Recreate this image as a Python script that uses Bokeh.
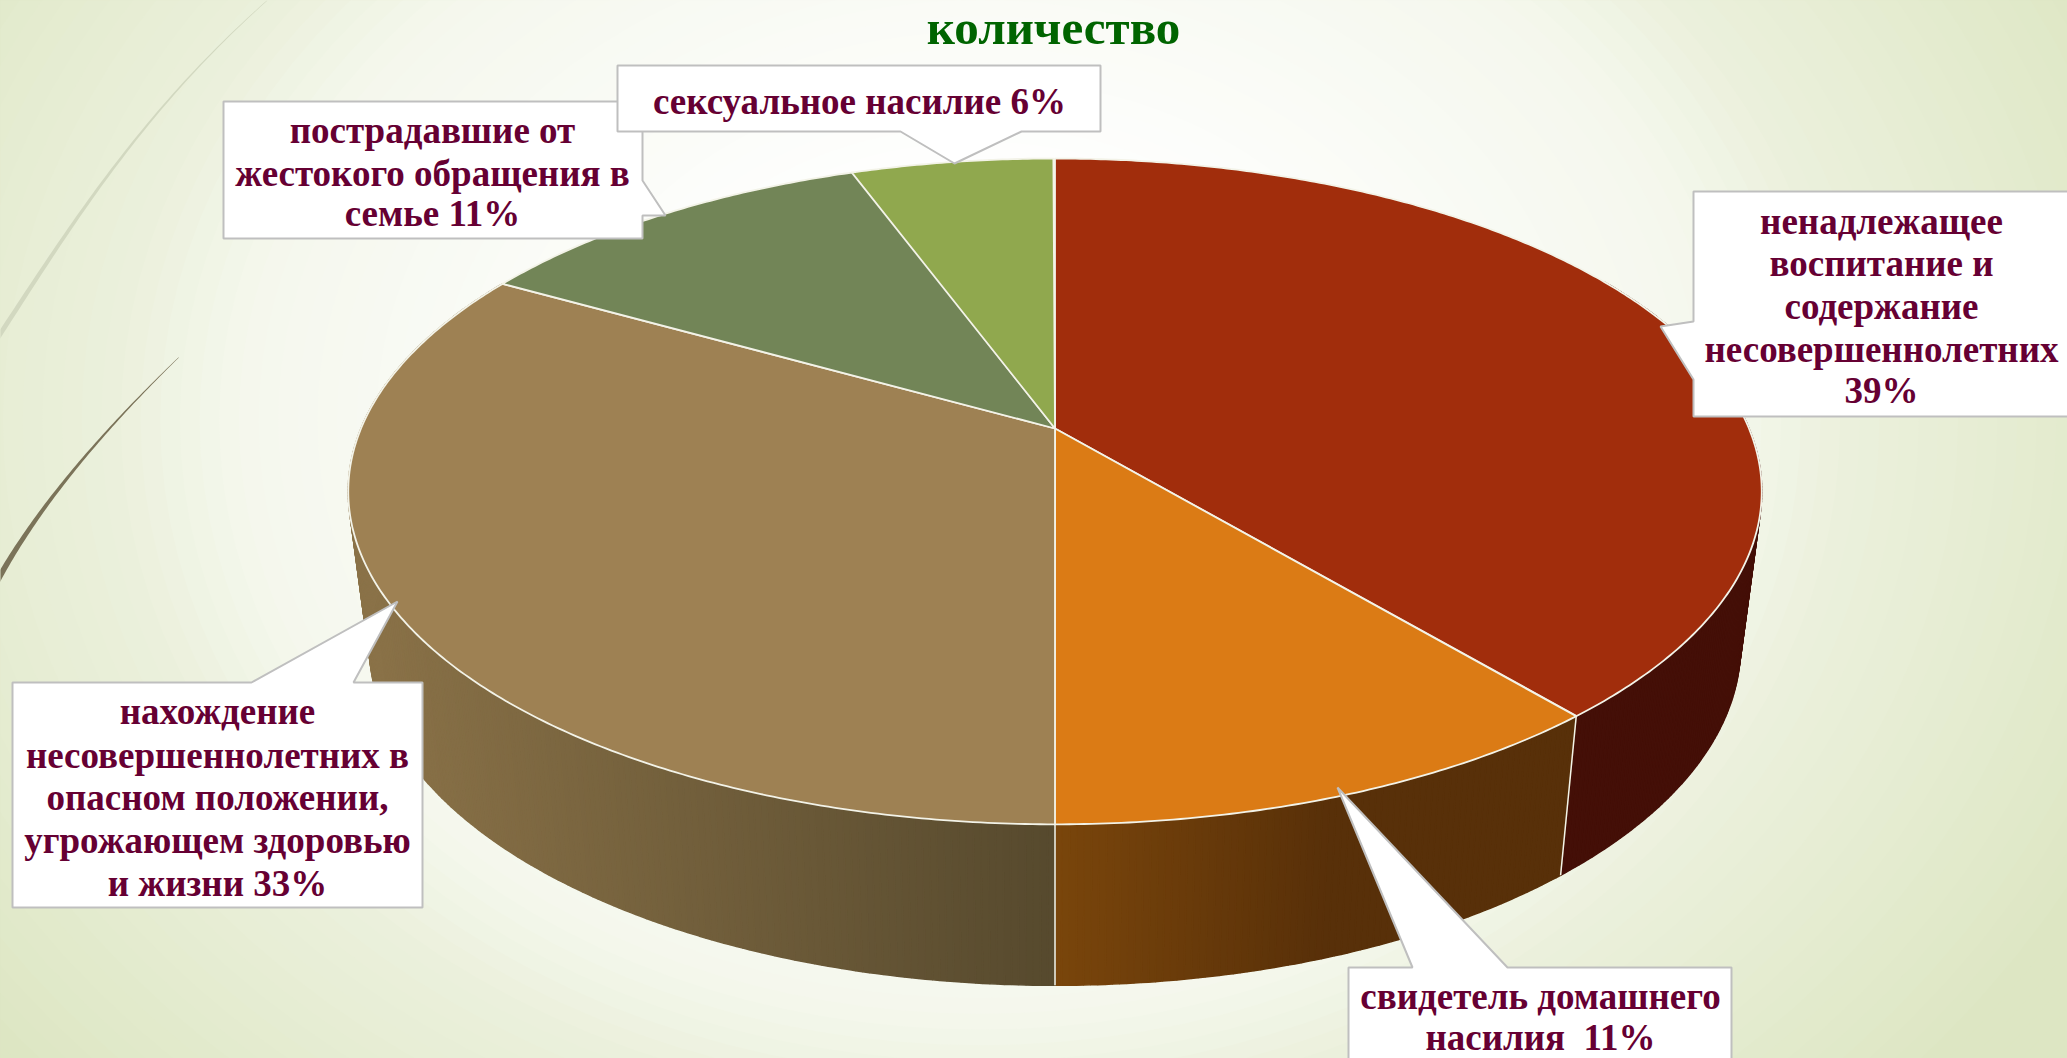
import numpy as np
from bokeh.plotting import figure
from bokeh.models import Range1d
from bokeh.embed import file_html
from bokeh.resources import INLINE
from bokeh.core.properties import value

# --- data (shares in %; labels as printed)
categories = ["ненадлежащее воспитание и содержание несовершеннолетних",
              "свидетель домашнего насилия",
              "нахождение несовершеннолетних в опасном положении, угрожающем здоровью и жизни",
              "пострадавшие от жестокого обращения в семье",
              "сексуальное насилие"]
shares = [38.9, 11.1, 33.2, 11.2, 5.6]
top_colors = ["#a12d0c", "#db7b15", "#9e8153", "#728557", "#90a84e"]
title_text = "количество"
label_lines = [
    ["ненадлежащее", "воспитание и", "содержание", "несовершеннолетних", "39%"],
    ["свидетель домашнего", "насилия\u00a0\u00a011%"],
    ["нахождение", "несовершеннолетних в", "опасном положении,", "угрожающем здоровью", "и жизни 33%"],
    ["пострадавшие от", "жестокого обращения в", "семье 11%"],
    ["сексуальное насилие 6%"],
]

W, H = 2067, 1058
p = figure(width=W, height=H, output_backend="svg", toolbar_location=None,
           x_range=Range1d(0, W), y_range=Range1d(H, 0),
           min_border=0, outline_line_color=None, background_fill_color="#dfe7c6")
p.axis.visible = False
p.grid.visible = False

# --- slide background: radial gradient built from concentric ellipses
white, green = np.array([255, 255, 255.]), np.array([222, 231, 196.])
phi = np.linspace(0, 2 * np.pi, 121)
rs = np.linspace(1.6, 0.2, 90)
xs, ys, cs = [], [], []
for r in rs:
    t = np.interp(r, [0.25, 0.6, 0.7, 1.0, 1.6], [0, 0.3, 0.58, 1, 1.1])
    c = np.clip(white + (green - white) * t, 0, 255).astype(int)
    xs.append(list(980 + 1250 * r * np.cos(phi)))
    ys.append(list(420 + 1000 * r * np.sin(phi)))
    cs.append("#%02x%02x%02x" % tuple(c))
p.patches(xs, ys, fill_color=cs, line_color=None)


# --- wisps on the left: tapered curves
def wisp(px, py, w0, w1, color):
    c = np.polyfit(py, px, 3)
    yy = np.linspace(min(py), max(py), 60)
    xx = np.polyval(c, yy)
    ww = np.linspace(w0, w1, 60) / 2
    p.patch(list(xx - ww) + list((xx + ww)[::-1]), list(yy) + list(yy[::-1]),
            fill_color=color, line_color=None)


wisp([267, 213, 133, 67, 22, -8], [0, 50, 143, 230, 300, 345], 0.8, 6.0, "#d2d8c0")
wisp([178, 133, 83, 33, -6], [357, 403, 457, 523, 585], 0.6, 7.0, "#7b7359")

# --- perspective pie
CX, AY, A, B, K = 1054.5, 428.0, 694.0, 321.0, 0.189
XS, D0, DS = 0.97, 161.0, 0.0185


def rim(theta):
    th = np.radians(theta)
    X, Y = np.sin(th), np.cos(th)
    d = 1 + K * Y
    return CX + A * X / d, AY - B * Y / d


def lower(x, y):
    return CX + (x - CX) * XS, y + D0 + DS * (y - 824)


def mix(a, b, t):
    a, b = np.array(a, float), np.array(b, float)
    return "#%02x%02x%02x" % tuple((a + (b - a) * np.clip(t, 0, 1)).astype(int))


cum = np.cumsum([0] + shares) * 3.6
edges = list(zip(cum[:-1], cum[1:]))

side_style = [
    (edges[0][0] + 60, edges[0][1], lambda x: "#440f07"),
    (edges[1][0], edges[1][1], lambda x: mix((122, 70, 12), (88, 48, 9), (x - 1054) / 280)),
    (edges[2][0], edges[2][1], lambda x: mix((138, 114, 72), (87, 74, 46), (x - 370) / 684)),
]
for a, b, colf in side_style:
    sx, sy, sc = [], [], []
    for t0 in np.arange(a, b, 0.5):
        t1 = min(t0 + 0.5, b)
        x0, y0 = rim(t0)
        x1, y1 = rim(t1)
        x2, y2 = lower(x1, y1)
        x3, y3 = lower(x0, y0)
        sx.append([x0, x1, x2, x3])
        sy.append([y0, y1, y2, y3])
        sc.append(colf((x0 + x1) / 2))
    p.patches(sx, sy, fill_color=sc, line_color=sc, line_width=1.5)

# side edges between slices
for th in (edges[0][1], edges[1][1]):
    x0, y0 = rim(th)
    x1, y1 = lower(x0, y0)
    p.line([x0, x1], [y0, y1], line_color="#f4f4ea", line_width=1.5)

# top faces
for (a, b), col in zip(edges, top_colors):
    tt = np.arange(a, b + 0.25, 0.5)
    rx, ry = rim(tt)
    p.patch([CX] + list(rx), [AY] + list(ry), fill_color=col,
            line_color="#f3f3e8", line_width=1.8, line_join="round")

# --- callouts
callouts = [
    # order: right, orange, tan, green, light green
    ([1693, 2075, 2075, 1693, 1693, 1660, 1693], [191, 191, 416, 416, 379, 326, 321]),
    ([1348, 1412, 1337, 1507, 1731, 1731, 1348], [967, 967, 787, 967, 967, 1066, 1066]),
    ([12, 251, 397, 353, 422, 422, 12], [682, 682, 601, 682, 682, 907, 907]),
    ([223, 642, 642, 665, 642, 642, 223], [101, 101, 180, 215, 215, 238, 238]),
    ([617, 1100, 1100, 1021, 954, 900, 617], [65, 65, 131, 131, 163, 131, 131]),
]
for cx_, cy_ in callouts:
    p.patch(cx_, cy_, fill_color="white", line_color="#bfbfbf", line_width=2)

label_pos = [
    (1881, [221, 263, 306, 349, 390]),
    (1540, [996, 1037]),
    (217, [711, 755, 797, 840, 883]),
    (432, [130, 173, 213]),
    (859, [101]),
]
FONT = value("Liberation Serif")
for lines, (lx, lys) in zip(label_lines, label_pos):
    p.text([lx] * len(lines), lys, text=lines, text_font=FONT, text_font_style="bold",
           text_font_size="37px", text_color="#660033", text_align="center",
           text_baseline="middle")

p.text([1053], [27], text=[title_text], text_font=FONT, text_font_style="bold",
       text_font_size="49px", text_color="#006400", text_align="center",
       text_baseline="middle")

open("out.html", "w").write(file_html(p, INLINE))
